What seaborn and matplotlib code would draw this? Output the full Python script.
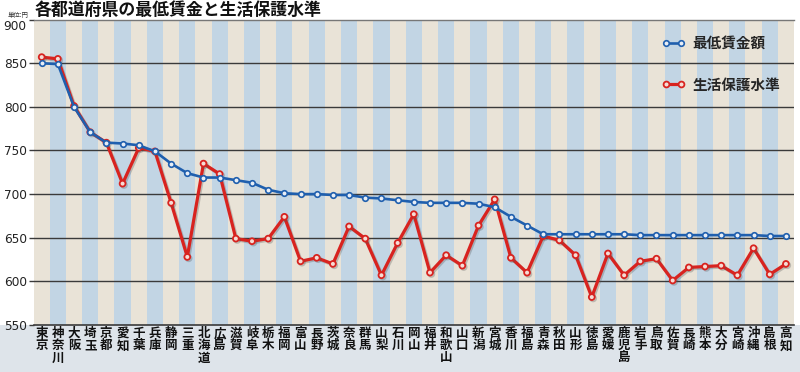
import matplotlib
matplotlib.use("Agg")
import matplotlib.pyplot as plt
import matplotlib.patheffects as pe
from matplotlib.patches import Rectangle
from matplotlib.lines import Line2D
from matplotlib.transforms import ScaledTranslation
import seaborn as sns
import pandas as pd

sns.set_theme(style="white")
plt.rcParams['font.family'] = ['Noto Sans CJK JP', 'DejaVu Sans']

prefectures = ["東京", "神奈川", "大阪", "埼玉", "京都", "愛知", "千葉", "兵庫", "静岡", "三重",
               "北海道", "広島", "滋賀", "岐阜", "栃木", "福岡", "富山", "長野", "茨城", "奈良",
               "群馬", "山梨", "石川", "岡山", "福井", "和歌山", "山口", "新潟", "宮城", "香川",
               "福島", "青森", "秋田", "山形", "徳島", "愛媛", "鹿児島", "岩手", "鳥取", "佐賀",
               "長崎", "熊本", "大分", "宮崎", "沖縄", "島根", "高知"]
min_wage = [850, 849, 800, 771, 759, 758, 756, 749, 735, 724,
            719, 719, 716, 713, 705, 701, 700, 700, 699, 699,
            696, 695, 693, 691, 690, 690, 690, 689, 685, 674,
            664, 654, 654, 654, 654, 654, 654, 653, 653, 653,
            653, 653, 653, 653, 653, 652, 652]
welfare = [857, 855, 801, 771, 759, 712, 753, 749, 690, 628,
           735, 723, 649, 646, 649, 674, 623, 627, 620, 663,
           649, 607, 644, 677, 610, 630, 618, 664, 694, 627,
           610, 652, 647, 630, 582, 632, 607, 623, 626, 601,
           616, 617, 618, 607, 638, 608, 620]
yticks = [550, 600, 650, 700, 750, 800, 850, 900]
title = "各都道府県の最低賃金と生活保護水準"
unit = "単位:円"
label_wage = "最低賃金額"
label_welfare = "生活保護水準"

W, H = 800, 372
fig = plt.figure(figsize=(W / 100, H / 100), dpi=100)
fig.patch.set_facecolor("white")
fig.patches.append(Rectangle((0, 0), 1, 1 - 325 / H, transform=fig.transFigure,
                             facecolor="#dee4ea", edgecolor="none", zorder=-5))

ax = fig.add_axes([33.6 / W, 1 - 325 / H, (794 - 33.6) / W, (325 - 19.6) / H])

beige = "#e9e3d7"
blue_bg = "#c2d5e4"
x = list(range(len(prefectures)))
for i in x:
    ax.axvspan(i - 0.5, i + 0.5, color=beige if i % 2 == 0 else blue_bg, lw=0, zorder=0)

for v in yticks[1:-1]:
    ax.axhline(v, color="#3a3a3a", lw=1.0, zorder=1)

df = pd.DataFrame({"x": x, "wage": min_wage, "welfare": welfare})

red = "#d8231f"
blue = "#1f5fae"
sns.lineplot(data=df, x="x", y="welfare", ax=ax, color=red, lw=2.3, marker="o",
             markersize=4.2, markerfacecolor="#f6dcd5", markeredgecolor=red,
             markeredgewidth=1.3, zorder=3,
             path_effects=[pe.SimpleLineShadow(offset=(1.0, -1.0), shadow_color="#555555", alpha=0.3),
                           pe.Normal()])
sns.lineplot(data=df, x="x", y="wage", ax=ax, color=blue, lw=1.9, marker="o",
             markersize=4.0, markerfacecolor="#e8eef6", markeredgecolor=blue,
             markeredgewidth=1.2, zorder=4)

ax.set_xlim(-0.5, len(prefectures) - 0.5)
ax.set_ylim(550, 900)
ax.set_yticks(yticks)
ax.set_yticklabels([str(v) for v in yticks], family="DejaVu Sans", fontsize=8.7, color="#222222")
ax.set_xticks(x)
ax.set_xticklabels(["\n".join(p) for p in prefectures], fontsize=9, fontweight="bold",
                   linespacing=0.92, color="#111111")
ax.tick_params(axis="x", length=0, pad=1.5)
ax.tick_params(axis="y", length=3.5, width=1, color="#3a3a3a", pad=1.5, left=True)
ax.set_xlabel("")
ax.set_ylabel("")
for s in ["left", "right"]:
    ax.spines[s].set_visible(False)
ax.spines["top"].set_color("#777777")
ax.spines["top"].set_linewidth(1.0)
ax.spines["bottom"].set_color("#3a3a3a")
ax.spines["bottom"].set_linewidth(1.2)

# the top label sits a little below its line in the reference
top_lbl = ax.get_yticklabels()[-1]
top_lbl.set_transform(top_lbl.get_transform() + ScaledTranslation(0, -5.5 / 100, fig.dpi_scale_trans))

handles = [Line2D([0], [0], color=blue, lw=1.9, marker="o", markersize=4.0,
                  markerfacecolor="#e8eef6", markeredgecolor=blue, markeredgewidth=1.2),
           Line2D([0], [0], color=red, lw=2.3, marker="o", markersize=4.2,
                  markerfacecolor="#f6dcd5", markeredgecolor=red, markeredgewidth=1.3)]
leg = fig.legend(handles, [label_wage, label_welfare], loc="upper left",
                 bbox_to_anchor=(662 / W, 1 - 35 / H), frameon=False, numpoints=2,
                 handlelength=1.6, handletextpad=0.5, labelspacing=1.75,
                 borderpad=0, borderaxespad=0,
                 prop={"size": 10.5, "weight": "bold", "family": ["Noto Sans CJK JP"]})

fig.text(35 / W, 1 - 0.5 / H, title, ha="left", va="top", fontsize=12.2, fontweight="bold",
         color="#111111")
fig.text(8 / W, 1 - 10.5 / H, unit, ha="left", va="top", fontsize=4.6, color="#333333")

fig.savefig("out.png", dpi=100)
